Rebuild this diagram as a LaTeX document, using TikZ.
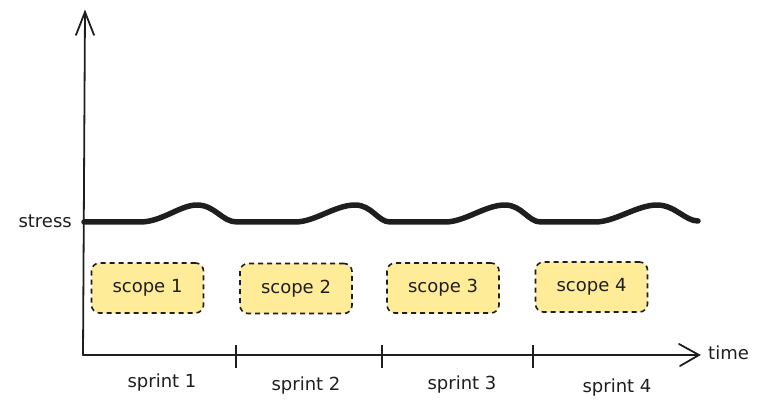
\documentclass[tikz,border=0pt]{standalone}
\usepackage{fontspec}
\setmainfont{DejaVu Sans}
\definecolor{ink}{HTML}{1E1E1E}
\definecolor{scopefill}{HTML}{FFEC99}
\begin{document}
\begin{tikzpicture}[x=1pt,y=-1pt,
  lbl/.style={font=\fontsize{18}{21}\selectfont, text=ink, inner sep=0pt},
  scopebox/.style={draw=ink, fill=scopefill, dashed, dash pattern=on 5pt off 4pt, line width=1.6pt, rounded corners=8pt, minimum width=112pt, minimum height=50pt, font=\fontsize{18}{21}\selectfont, text=ink},
  axis/.style={draw=ink, line width=1.8pt, line cap=round},
  tick/.style={draw=ink, line width=1.4pt},
  wave/.style={draw=ink, line width=5.5pt, line cap=round, line join=round}]
\useasboundingbox (0,0) rectangle (759,411);
\coordinate (origin) at (83,355);
\coordinate (ytop) at (85,12);
\coordinate (xend) at (699,355);
% axes
\draw[axis] (origin) -- (ytop);
\draw[axis] (76,35) -- (ytop) -- (94,35);
\draw[axis] (origin) -- (xend);
\draw[axis] (679,344) -- (xend) -- (680,366);
% ticks
\foreach \x/\n in {236/t1,382/t2,533/t3}{
  \coordinate (\n a) at (\x,345);
  \coordinate (\n b) at (\x,368);
  \draw[tick] (\n a) -- (\n b);
}
% stress wave
\coordinate (w0) at (84,222);
\draw[wave] (w0)
  -- (140,222) .. controls (162,222) and (180,205) .. (197,205) .. controls (215,205) and (222,222) .. (237,222)
  -- (295,222) .. controls (315,222) and (335,205) .. (355,205) .. controls (372,205) and (378,222) .. (390,222)
  -- (445,222) .. controls (465,222) and (485,205) .. (505,205) .. controls (522,205) and (528,222) .. (541,222)
  -- (595,222) .. controls (615,222) and (637,205) .. (657,205) .. controls (675,205) and (685,221) .. (698,221);
% labels
\node[lbl, anchor=east] (stress) at (72,221) {stress};
\node[lbl, anchor=west] (time) at (708,353) {time};
\node[lbl] (s1) at (162,383) {sprint 1};
\node[lbl] (s2) at (306,386) {sprint 2};
\node[lbl] (s3) at (462,385) {sprint 3};
\node[lbl] (s4) at (617,388) {sprint 4};
% scope boxes
\node[scopebox] (c1) at (147.5,288) {scope 1};
\node[scopebox] (c2) at (296,288.5) {scope 2};
\node[scopebox] (c3) at (443,288) {scope 3};
\node[scopebox] (c4) at (591.5,287) {scope 4};
\end{tikzpicture}
\end{document}
